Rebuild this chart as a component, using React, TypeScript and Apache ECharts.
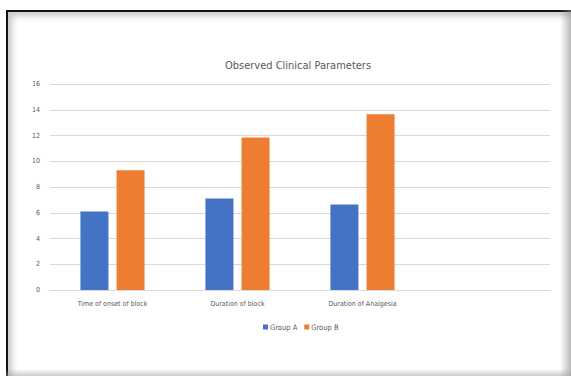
import React, { useEffect, useRef } from "react";
import * as echarts from "echarts";

const categories = ["Time of onset of block", "Duration of block", "Duration of Analgesia", ""];
const groupA = [6.1, 7.1, 6.65, null];
const groupB = [9.3, 11.85, 13.65, null];
const seriesNames = ["Group A", "Group B"];
const titleText = "Observed Clinical Parameters";

const FONT = "'Liberation Sans Narrow', 'DejaVu Sans Condensed', sans-serif";

export default function App() {
  const ref = useRef<HTMLDivElement>(null);
  useEffect(() => {
    if (!ref.current) return;
    const chart = echarts.init(ref.current, null, { renderer: "svg" });
    chart.setOption({
      animation: false,
      backgroundColor: "transparent",
      title: {
        text: titleText,
        left: 293,
        textAlign: "center",
        top: 55,
        textStyle: { fontFamily: FONT, fontSize: 11, fontWeight: "normal", color: "#595959" },
      },
      legend: {
        data: seriesNames,
        left: 258,
        top: 318,
        itemWidth: 5,
        itemHeight: 5,
        itemGap: 7,
        icon: "rect",
        textStyle: { fontFamily: FONT, fontSize: 7.5, color: "#595959", padding: [0, 0, 0, -3] },
      },
      grid: { left: 50, right: 21, top: 84, bottom: 86 },
      xAxis: {
        type: "category",
        data: categories,
        axisLine: { lineStyle: { color: "#d9d9d9", width: 1 } },
        axisTick: { show: false },
        axisLabel: { fontFamily: FONT, fontSize: 7, color: "#595959", margin: 10 },
      },
      yAxis: {
        type: "value",
        min: 0,
        max: 16,
        interval: 2,
        axisLine: { show: false },
        axisTick: { show: false },
        splitLine: { lineStyle: { color: "#d9d9d9", width: 1 } },
        axisLabel: { fontFamily: FONT, fontSize: 7, color: "#595959", margin: 10 },
      },
      series: [
        {
          name: seriesNames[0],
          type: "bar",
          data: groupA,
          barWidth: 28,
          barGap: "29%",
          itemStyle: { color: "#4472c4" },
        },
        {
          name: seriesNames[1],
          type: "bar",
          data: groupB,
          barWidth: 28,
          itemStyle: { color: "#ed7d31" },
        },
      ],
    });
    return () => chart.dispose();
  }, []);
  return (
    <div style={{ position: "fixed", left: 0, top: 0, width: 571, height: 376, background: "#fff", overflow: "hidden" }}>
      <div
        style={{
          position: "absolute",
          left: 6,
          top: 10,
          width: 571,
          height: 366,
          borderTop: "2px solid #111",
          borderLeft: "2px solid #111",
          boxShadow: "inset 6px 6px 6px -2px rgba(0,0,0,0.22)",
          boxSizing: "border-box",
        }}
      />
      <div
        style={{
          position: "absolute",
          left: 560,
          top: 10,
          width: 11,
          height: 366,
          background: "linear-gradient(to right, rgba(255,255,255,0), rgba(140,140,140,0.6))",
        }}
      />
      <div
        style={{
          position: "absolute",
          left: 6,
          top: 369,
          width: 565,
          height: 7,
          background: "linear-gradient(to bottom, rgba(255,255,255,0), rgba(150,150,150,0.5))",
        }}
      />
      <div ref={ref} style={{ position: "absolute", left: 0, top: 0, width: 571, height: 376 }} />
    </div>
  );
}
